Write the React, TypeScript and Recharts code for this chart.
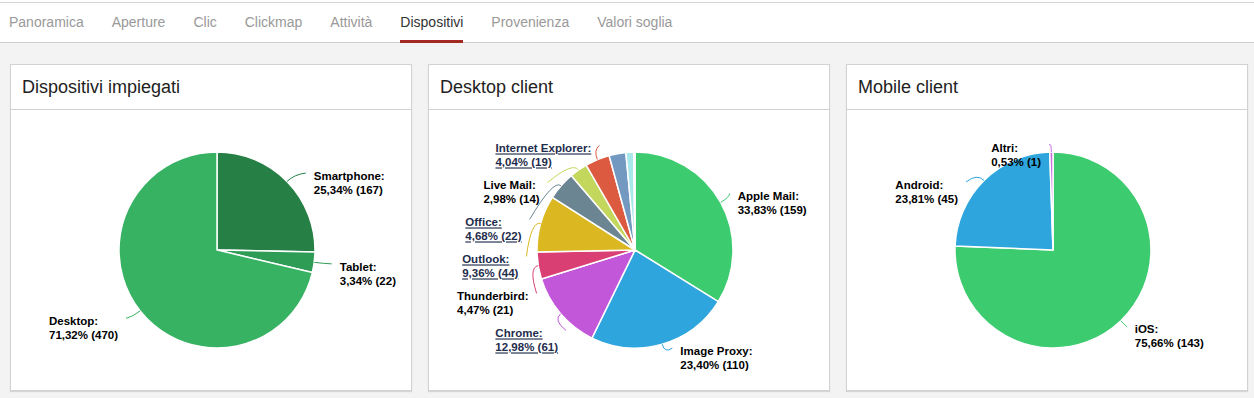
import { PieChart, Pie, Cell } from 'recharts';

const TABS = ['Panoramica', 'Aperture', 'Clic', 'Clickmap', 'Attività', 'Dispositivi', 'Provenienza', 'Valori soglia'];
const ACTIVE_TAB = 'Dispositivi';

// Dispositivi impiegati
const deviceNames = ['Smartphone', 'Tablet', 'Desktop'];
const deviceValues = [167, 22, 470];
const deviceColors = ['#268046', '#2f9c56', '#37b263'];
const deviceLinked = [false, false, false];

// Desktop client (last three slices have no label)
const desktopNames = ['Apple Mail', 'Image Proxy', 'Chrome', 'Thunderbird', 'Outlook', 'Office', 'Live Mail', 'Internet Explorer', '', '', ''];
const desktopValues = [159, 110, 61, 21, 44, 22, 14, 19, 13, 6, 1];
const desktopColors = ['#3dcb70', '#2ea5dc', '#c257d9', '#da3f74', '#dbb822', '#6b8692', '#c2d75b', '#dc5b40', '#7499c1', '#a9e8ea', '#eef4f6'];
const desktopLinked = [false, false, true, false, true, true, false, true, false, false, false];

// Mobile client
const mobileNames = ['iOS', 'Android', 'Altri'];
const mobileValues = [143, 45, 1];
const mobileColors = ['#3dcb70', '#2ea5dc', '#c96fe0'];
const mobileLinked = [false, false, false];

const FONT = '"Liberation Sans", Arial, sans-serif';
const LABEL_SIZE = 11.5;
const CX = 206;
const CY = 140;
const R = 98;

let ctx: CanvasRenderingContext2D | null = null;
function textWidth(s: string) {
  if (!ctx) {
    ctx = document.createElement('canvas').getContext('2d');
  }
  if (!ctx) return s.length * 6;
  ctx.font = `bold ${LABEL_SIZE}px "Liberation Sans", Arial`;
  return ctx.measureText(s).width;
}

function fmt(v: number, total: number) {
  return (v / total * 100).toFixed(2).replace('.', ',') + '% (' + v + ')';
}

// simple amCharts-like label layout: spread per side, clamp top/bottom
function layoutLabels(names: string[], values: number[], labelR: number, yShift: number) {
  const total = values.reduce((a, b) => a + b, 0);
  let acc = 0;
  const items: any[] = [];
  values.forEach((v, i) => {
    const mid = (acc + v / 2) / total * 360;
    acc += v;
    if (!names[i]) return;
    const rad = mid * Math.PI / 180;
    const side = Math.sin(rad) >= 0 ? 1 : -1;
    let y = CY - 110 * Math.cos(rad) + yShift;
    let clamped = false;
    if (y < CY - 102) { y = CY - 102; clamped = true; }
    if (y > CY + 101) y = CY + 101;
    items.push({ i, rad, side, y, clamped, l1: names[i] + ':', l2: fmt(v, total) });
  });
  [1, -1].forEach(side => {
    const s = items.filter(d => d.side === side).sort((a, b) => a.y - b.y);
    for (let k = 1; k < s.length; k++) {
      if (s[k].y < s[k - 1].y + 37) s[k].y = s[k - 1].y + 37;
    }
  });
  const map: Record<number, any> = {};
  items.forEach(d => {
    const dy = d.y - CY;
    const dx = d.clamped ? 120 * Math.abs(Math.sin(d.rad)) : Math.sqrt(Math.max(labelR * labelR - dy * dy, 0));
    d.ax = CX + d.side * dx;
    map[d.i] = d;
  });
  return map;
}

function PiePanel({ left, title, names, values, colors, linked, labelR = 107, yShift = 0 }: any) {
  const layout = layoutLabels(names, values, labelR, yShift);
  const data = names.map((n: string, i: number) => ({ name: n || 'altro' + i, value: values[i] }));

  const renderLabel = (props: any) => {
    const d = layout[props.index];
    if (!d) return null;
    const ex = CX + R * Math.sin(d.rad);
    const ey = CY - R * Math.cos(d.rad);
    const qx = CX + (R + 10) * Math.sin(d.rad);
    const qy = CY - (R + 10) * Math.cos(d.rad);
    const lx = d.ax + d.side * 2;
    const w = Math.max(textWidth(d.l1), textWidth(d.l2));
    const tx = d.side > 0 ? d.ax + 10 : d.ax - 10 - w;
    const isLink = linked[props.index];
    const fill = isLink ? '#1f2d4d' : '#000';
    return (
      <g key={'lbl' + props.index}>
        <path d={`M${ex},${ey} Q${qx},${qy} ${lx},${d.y - 3}`} stroke={colors[props.index]} strokeWidth={1} fill="none" />
        <text x={tx} y={d.y + 4} fontSize={LABEL_SIZE} fontWeight="bold" fontFamily={FONT} fill={fill}
          textDecoration={isLink ? 'underline' : undefined}>{d.l1}</text>
        <text x={tx} y={d.y + 18} fontSize={LABEL_SIZE} fontWeight="bold" fontFamily={FONT} fill={fill}
          textDecoration={isLink ? 'underline' : undefined}>{d.l2}</text>
      </g>
    );
  };

  return (
    <div style={{ position: 'absolute', left, top: 64, width: 400, height: 325, background: '#fff', border: '1px solid #d2d2d2', boxShadow: '0 1px 1px rgba(0,0,0,0.12)' }}>
      <div style={{ height: 44, borderBottom: '1px solid #d2d2d2', display: 'flex', alignItems: 'center', paddingLeft: 11, fontSize: 18, color: '#222', fontFamily: FONT }}>
        {title}
      </div>
      <PieChart width={400} height={280} margin={{ top: 0, right: 0, bottom: 0, left: 0 }}>
        <Pie data={data} dataKey="value" nameKey="name" cx={CX} cy={CY} outerRadius={R}
          startAngle={90} endAngle={-270} stroke="#fff" strokeWidth={1.5}
          label={renderLabel} labelLine={false} isAnimationActive={false}>
          {data.map((_: any, i: number) => <Cell key={i} fill={colors[i]} />)}
        </Pie>
      </PieChart>
    </div>
  );
}

export default function App() {
  return (
    <div style={{ position: 'fixed', left: 0, top: 0, width: 1254, height: 398, background: '#f3f3f3', fontFamily: FONT, overflow: 'hidden' }}>
      <div style={{ position: 'absolute', left: 0, top: 0, width: 1254, height: 42, background: '#fff', borderBottom: '1px solid #cfcfcf' }}>
        <div style={{ position: 'absolute', left: 0, top: 2, width: 1254, height: 1, background: '#d6d6d6' }} />
        <div style={{ position: 'absolute', left: 9, top: 0, height: 42, display: 'flex', gap: 28 }}>
          {TABS.map(t => (
            <div key={t} style={{ position: 'relative', height: 42, lineHeight: '44px', fontSize: 14, color: t === ACTIVE_TAB ? '#333' : '#999' }}>
              {t}
              {t === ACTIVE_TAB && <div style={{ position: 'absolute', left: 0, right: 0, bottom: -1, height: 3, background: '#a32a22' }} />}
            </div>
          ))}
        </div>
      </div>
      <PiePanel left={10} title="Dispositivi impiegati" names={deviceNames} values={deviceValues} colors={deviceColors} linked={deviceLinked} labelR={114} yShift={3} />
      <PiePanel left={428} title="Desktop client" names={desktopNames} values={desktopValues} colors={desktopColors} linked={desktopLinked} />
      <PiePanel left={846} title="Mobile client" names={mobileNames} values={mobileValues} colors={mobileColors} linked={mobileLinked} />
    </div>
  );
}
